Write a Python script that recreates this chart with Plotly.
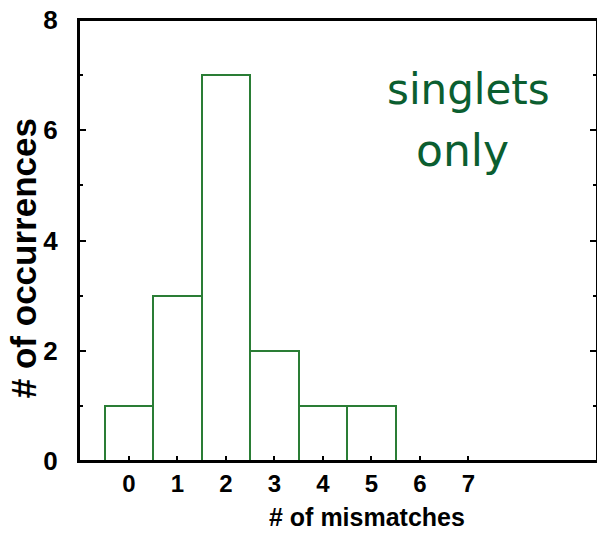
import plotly.graph_objects as go

mismatches = [0, 1, 2, 3, 4, 5]
occurrences = [1, 3, 7, 2, 1, 1]
x_ticks = [0, 1, 2, 3, 4, 5, 6, 7]
y_ticks = [0, 2, 4, 6, 8]
note_lines = ["singlets", "only"]
x_title = "# of mismatches"
y_title = "# of occurrences"

fig = go.Figure()
fig.add_trace(go.Bar(
    x=mismatches, y=occurrences, width=1,
    marker=dict(color="white", line=dict(color="#2a7d35", width=2)),
    showlegend=False,
))

font_fam = "Liberation Sans, Arial, sans-serif"
fig.update_layout(
    width=597, height=531,
    margin=dict(l=71, r=8, t=12, b=78),
    paper_bgcolor="white", plot_bgcolor="white",
    bargap=0,
    xaxis=dict(
        range=[-1.03, 9.65], tickvals=x_ticks, ticks="inside", ticklen=5, tickwidth=2,
        tickcolor="black", showline=True, linecolor="black", linewidth=2, mirror=True,
        showgrid=False, zeroline=False, automargin=False,
        tickfont=dict(family=font_fam, size=24, color="black", weight="bold"),
        ticklabelstandoff=0, ticklabeloverflow="allow",
    ),
    yaxis=dict(
        range=[0, 8], tickvals=y_ticks, ticks="inside", ticklen=7, tickwidth=2,
        tickcolor="black", showline=True, linecolor="black", linewidth=2, mirror="ticks",
        showgrid=False, zeroline=False, automargin=False,
        minor=dict(dtick=1, ticks="inside", ticklen=4, tickwidth=2, tickcolor="black"),
        tickfont=dict(family=font_fam, size=26, color="black", weight="bold"),
        ticklabelstandoff=14, ticklabeloverflow="allow",
    ),
)

fig.add_shape(type="rect", xref="paper", yref="paper", x0=0, x1=1, y0=0, y1=1,
              line=dict(color="black", width=2), layer="above")

fig.add_annotation(
    text=x_title, x=0.556, y=-0.127, xref="paper", yref="paper", xanchor="center", yanchor="middle",
    showarrow=False, font=dict(family=font_fam, size=25, color="black", weight="bold"),
)
fig.add_annotation(
    text=y_title, x=-0.108, y=0.46, xref="paper", yref="paper", xanchor="center", yanchor="middle",
    textangle=-90, showarrow=False, font=dict(family=font_fam, size=35, color="black", weight="bold"),
)
fig.add_annotation(
    text=note_lines[0], x=0.751, y=0.842, xref="paper", yref="paper", xanchor="center", yanchor="middle",
    showarrow=False, font=dict(family="DejaVu Sans, sans-serif", size=42, color="#0b5e30"),
)
fig.add_annotation(
    text=note_lines[1], x=0.741, y=0.705, xref="paper", yref="paper", xanchor="center", yanchor="middle",
    showarrow=False, font=dict(family="DejaVu Sans, sans-serif", size=44, color="#0b5e30"),
)

fig.write_html("out.html")
